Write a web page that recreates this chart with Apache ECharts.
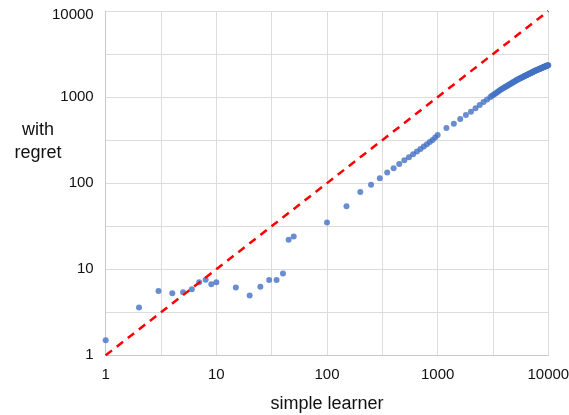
<!DOCTYPE html>
<html>
<head>
<meta charset="utf-8">
<script src="https://cdn.jsdelivr.net/npm/echarts@6/dist/echarts.min.js"></script>
<style>
  html, body { margin: 0; padding: 0; background: #fff; }
  #chart { width: 569px; height: 415px; }
</style>
</head>
<body>
<div id="chart"></div>
<script>
// Regret of the learner vs. the simple learner, both on log scales.
const simpleLearner = [
  1, 2, 3, 4, 5, 6, 7, 8, 9, 10,
  15, 20, 25, 30, 35, 40, 45, 50,
  100, 150, 200, 250, 300, 350, 400, 450, 500, 550, 600, 650, 700, 750, 800, 850, 900, 950, 1000,
  1200, 1400, 1600, 1800, 2000, 2200, 2400, 2600, 2800, 3000,
  3100, 3200, 3300, 3400, 3500, 3600, 3700, 3800, 3900, 4000,
  4100, 4200, 4300, 4400, 4500, 4600, 4700, 4800, 4900, 5000,
  5100, 5200, 5300, 5400, 5500, 5600, 5700, 5800, 5900, 6000,
  6100, 6200, 6300, 6400, 6500, 6600, 6700, 6800, 6900, 7000,
  7100, 7200, 7300, 7400, 7500, 7600, 7700, 7800, 7900, 8000,
  8100, 8200, 8300, 8400, 8500, 8600, 8700, 8800, 8900, 9000,
  9100, 9200, 9300, 9400, 9500, 9600, 9700, 9800, 9900, 10000
];
const withRegret = [
  1.5, 3.6, 5.6, 5.25, 5.4, 5.85, 7.05, 7.55, 6.7, 7.05,
  6.15, 4.95, 6.25, 7.5, 7.5, 8.9, 22, 24,
  35, 54, 79, 96, 114, 133, 149, 167, 184, 200, 216, 233, 250, 267, 284, 300, 318, 338, 362,
  437, 491, 556, 619, 676, 740, 809, 877, 940, 1005,
  1035, 1065, 1095, 1125, 1155, 1184, 1214, 1239, 1264, 1289,
  1314, 1339, 1363, 1388, 1412, 1436, 1460, 1484, 1508, 1531,
  1555, 1578, 1602, 1621, 1641, 1660, 1678, 1697, 1716, 1734,
  1753, 1771, 1789, 1808, 1826, 1843, 1861, 1879, 1897, 1914,
  1932, 1949, 1967, 1984, 2003, 2017, 2032, 2047, 2061, 2076,
  2091, 2105, 2119, 2134, 2148, 2162, 2176, 2190, 2204, 2218,
  2231, 2245, 2259, 2272, 2286, 2299, 2312, 2326, 2339, 2350
];
// Reference diagonal y = x
const diagonalX = [1, 10000];
const diagonalY = [1, 10000];
const tickLabels = ['1', '10', '100', '1000', '10000'];

const FONT = 'Liberation Sans, Arial, sans-serif';
const gridColor = '#dcdcdc';

// Both axes run in decades (log10 units); grid lines every half decade,
// labels only on whole decades.
const lg = Math.log10;

function decadeLabel(v) {
  if (Math.abs(v - Math.round(v)) > 1e-6) return '';
  return tickLabels[Math.round(v)];
}

function decadeAxis(labelMargin, formatter, extra) {
  return Object.assign({
    type: 'value',
    min: 0,
    max: 4,
    interval: 0.5,
    axisLine: { show: true, lineStyle: { color: '#c8c8c8', width: 1 } },
    axisTick: { show: false },
    splitLine: { show: true, lineStyle: { color: gridColor, width: 1 } },
    axisLabel: {
      color: '#111',
      fontFamily: FONT,
      fontSize: 15,
      margin: labelMargin,
      formatter: formatter,
      rich: { top: { fontFamily: FONT, fontSize: 15, color: '#111', padding: [8, 0, 0, 0] } }
    }
  }, extra || {});
}

const chart = echarts.init(document.getElementById('chart'), null, { renderer: 'canvas' });

chart.setOption({
  animation: false,
  backgroundColor: '#ffffff',
  grid: {
    left: 105.7, right: 20.7, top: 11, bottom: 59.7,
    containLabel: false,
    outerBoundsMode: 'none'
  },
  xAxis: decadeAxis(12, decadeLabel, {
    name: 'simple learner',
    nameLocation: 'middle',
    nameGap: 40,
    nameTextStyle: { color: '#111', fontFamily: FONT, fontSize: 18 }
  }),
  // the topmost y label sits a little below its grid line
  yAxis: decadeAxis(12, v => {
    const s = decadeLabel(v);
    return Math.round(v) === 4 && s ? '{top|' + s + '}' : s;
  }),
  graphic: [{
    type: 'text',
    x: 38,
    y: 119,
    style: {
      text: 'with\nregret',
      fill: '#111',
      font: '18px ' + FONT,
      align: 'center',
      verticalAlign: 'top',
      lineHeight: 23
    }
  }],
  series: [
    {
      type: 'scatter',
      data: simpleLearner.map((x, i) => [lg(x), lg(withRegret[i])]),
      symbol: 'circle',
      symbolSize: 6,
      itemStyle: { color: '#4472c4' },
      z: 2
    },
    {
      type: 'line',
      data: diagonalX.map((x, i) => [lg(x), lg(diagonalY[i])]),
      symbol: 'none',
      lineStyle: { color: '#ff0000', width: 2.5, type: [8, 6] },
      z: 3
    }
  ]
});
</script>
</body>
</html>
